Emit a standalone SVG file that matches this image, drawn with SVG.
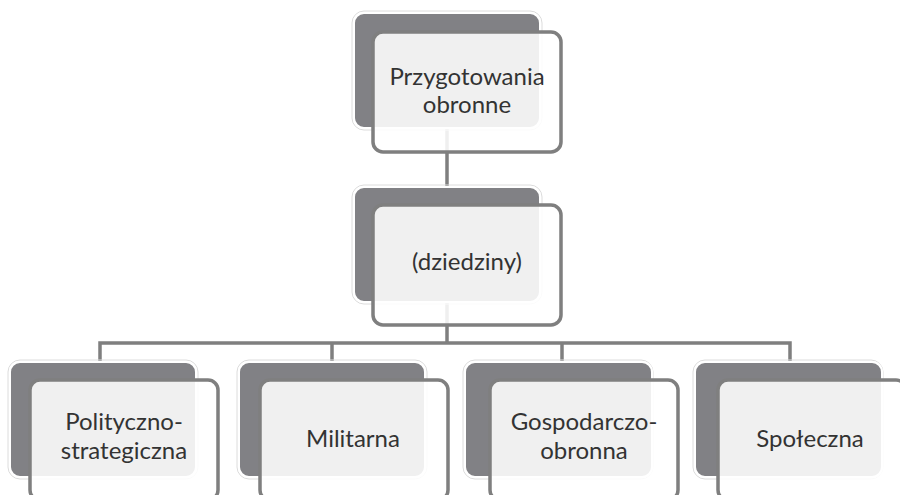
<svg xmlns="http://www.w3.org/2000/svg" width="900" height="495" viewBox="0 0 900 495">
<style>
.back{fill:#818185;stroke:#ffffff;stroke-width:2}
.halo{fill:none;stroke:#dcdcdc;stroke-width:1}
.front{fill:#ffffff;fill-opacity:0.88;stroke:#7f7f7f;stroke-width:3.5}
.conn{fill:none;stroke:#7f7f7f;stroke-width:3.5}
text{font-family:Lato,"Open Sans",sans-serif;font-size:24px;fill:#333333;text-anchor:middle}
</style>
<rect width="900" height="495" fill="#ffffff"/>
<g id="connectors">
<line class="conn" x1="447" y1="128" x2="447" y2="188"/>
<line class="conn" x1="447" y1="302" x2="447" y2="343"/>
<polyline class="conn" points="100,362 100,343 790,343 790,362"/>
<line class="conn" x1="332" y1="343" x2="332" y2="362"/>
<line class="conn" x1="562" y1="343" x2="562" y2="362"/>
</g>
<g id="n-top">
<rect class="halo" x="352" y="11" width="190" height="119" rx="12"/>
<rect class="back" x="354" y="13" width="186" height="115" rx="10"/>
<rect class="front" x="373" y="32" width="188" height="120" rx="10"/>
<text x="467" y="85">Przygotowania</text>
<text x="467" y="113">obronne</text>
</g>
<g id="n-mid">
<rect class="halo" x="352" y="185" width="190" height="119" rx="12"/>
<rect class="back" x="354" y="187" width="186" height="115" rx="10"/>
<rect class="front" x="373" y="205" width="188" height="120" rx="10"/>
<text x="467" y="270">(dziedziny)</text>
</g>
<g id="n-polit">
<rect class="halo" x="8" y="360" width="190" height="119" rx="12"/>
<rect class="back" x="10" y="362" width="186" height="115" rx="10"/>
<rect class="front" x="30" y="380" width="188" height="120" rx="10"/>
<text x="124" y="430">Polityczno-</text>
<text x="124" y="459">strategiczna</text>
</g>
<g id="n-milit">
<rect class="halo" x="237" y="360" width="190" height="119" rx="12"/>
<rect class="back" x="239" y="362" width="186" height="115" rx="10"/>
<rect class="front" x="260" y="380" width="188" height="120" rx="10"/>
<text x="353" y="447">Militarna</text>
</g>
<g id="n-gosp">
<rect class="halo" x="463" y="360" width="190" height="119" rx="12"/>
<rect class="back" x="465" y="362" width="187" height="115" rx="10"/>
<rect class="front" x="490" y="380" width="188" height="120" rx="10"/>
<text x="584" y="430">Gospodarczo-</text>
<text x="584" y="459">obronna</text>
</g>
<g id="n-spol">
<rect class="halo" x="693" y="360" width="190" height="119" rx="12"/>
<rect class="back" x="695" y="362" width="187" height="115" rx="10"/>
<rect class="front" x="718" y="380" width="188" height="120" rx="10"/>
<text x="810" y="447">Społeczna</text>
</g>
</svg>
